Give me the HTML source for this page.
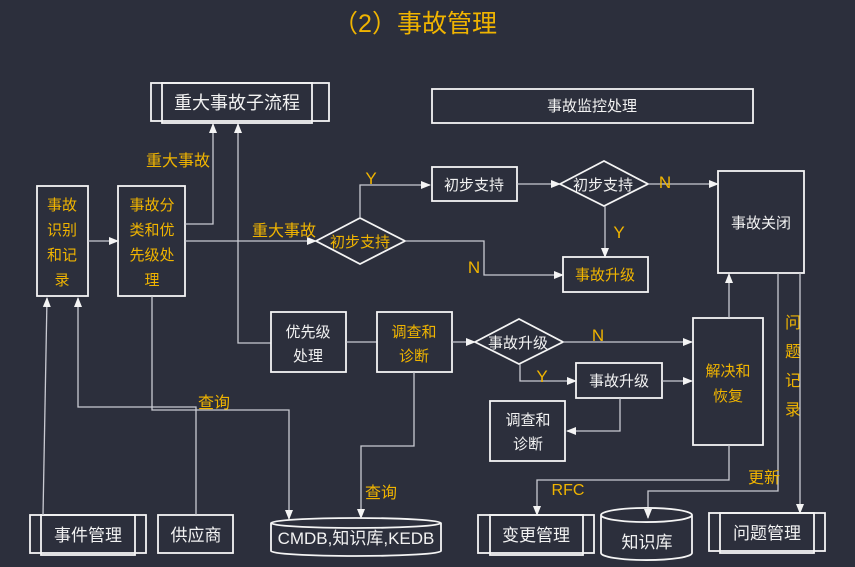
<!DOCTYPE html>
<html><head><meta charset="utf-8"><style>
html,body{margin:0;padding:0;background:#2c2f3c;}
svg{display:block}
text{font-family:"Liberation Sans","Noto Sans CJK SC",sans-serif;}
.o{fill:#f0b400}.w{fill:#f2f2f2}
.b{fill:none;stroke:#f4f4f4;stroke-width:1.8}
.l{fill:none;stroke:#c9cad2;stroke-width:1.3}
</style></head><body>
<svg width="855" height="567" viewBox="0 0 855 567" xmlns="http://www.w3.org/2000/svg">
<defs><marker id="a" markerWidth="10" markerHeight="10" refX="9" refY="5" orient="auto" markerUnits="userSpaceOnUse"><path d="M0,1 L10,5 L0,9 Z" fill="#f4f4f4"/></marker></defs>
<rect width="855" height="567" fill="#2c2f3c"/>
<text x="415" y="32" text-anchor="middle" font-size="25" class="o">（2）事故管理</text>

<!-- top boxes -->
<rect x="151" y="83" width="178" height="38" class="b"/><rect x="162" y="83" width="150" height="40" class="b"/>
<text x="237" y="109" text-anchor="middle" font-size="18" class="w">重大事故子流程</text>
<rect x="432" y="89" width="321" height="34" class="b"/>
<text x="592" y="111" text-anchor="middle" font-size="15" class="w">事故监控处理</text>

<!-- left boxes -->
<rect x="37" y="186" width="51" height="110" class="b"/>
<g font-size="15" class="o" text-anchor="middle"><text x="62" y="210">事故</text><text x="62" y="235">识别</text><text x="62" y="260">和记</text><text x="62" y="285">录</text></g>
<rect x="118" y="186" width="67" height="110" class="b"/>
<g font-size="15" class="o" text-anchor="middle"><text x="152" y="210">事故分</text><text x="152" y="235">类和优</text><text x="152" y="260">先级处</text><text x="152" y="285">理</text></g>
<line x1="88" y1="241" x2="118" y2="241" class="l" marker-end="url(#a)"/>
<polyline points="185,224 213,224 213,124" class="l" marker-end="url(#a)"/>
<text x="178" y="166" text-anchor="middle" font-size="16" class="o">重大事故</text>
<line x1="185" y1="241" x2="316" y2="241" class="l" marker-end="url(#a)"/>
<text x="284" y="236" text-anchor="middle" font-size="16" class="o">重大事故</text>

<!-- diamond 1 -->
<polygon points="316,241 360,218 405,241 360,264" class="b"/>
<text x="360" y="247" text-anchor="middle" font-size="15" class="o">初步支持</text>
<polyline points="360,218 360,185 430,185" class="l" marker-end="url(#a)"/>
<text x="371" y="184" text-anchor="middle" font-size="17" class="o">Y</text>
<polyline points="405,241 484,241 484,275 563,275" class="l" marker-end="url(#a)"/>
<text x="474" y="273" text-anchor="middle" font-size="17" class="o">N</text>

<rect x="432" y="167" width="85" height="34" class="b"/>
<text x="474" y="190" text-anchor="middle" font-size="15" class="w">初步支持</text>
<line x1="517" y1="184" x2="560" y2="184" class="l" marker-end="url(#a)"/>
<polygon points="560,184 604,161 648,184 604,206" class="b"/>
<text x="603" y="190" text-anchor="middle" font-size="15" class="w">初步支持</text>
<line x1="648" y1="184" x2="718" y2="184" class="l" marker-end="url(#a)"/>
<text x="665" y="188" text-anchor="middle" font-size="17" class="o">N</text>
<line x1="605" y1="206" x2="605" y2="257" class="l" marker-end="url(#a)"/>
<text x="619" y="238" text-anchor="middle" font-size="17" class="o">Y</text>
<rect x="563" y="257" width="85" height="35" class="b"/>
<text x="605" y="280" text-anchor="middle" font-size="15" class="o">事故升级</text>
<rect x="718" y="171" width="86" height="102" class="b"/>
<text x="761" y="228" text-anchor="middle" font-size="15" class="w">事故关闭</text>

<!-- middle -->
<polyline points="271,343 238,343 238,124" class="l" marker-end="url(#a)"/>
<rect x="271" y="312" width="75" height="60" class="b"/>
<g font-size="15" class="w" text-anchor="middle"><text x="308" y="337">优先级</text><text x="308" y="361">处理</text></g>
<line x1="346" y1="342" x2="377" y2="342" class="l"/>
<rect x="377" y="312" width="75" height="60" class="b"/>
<g font-size="15" class="o" text-anchor="middle"><text x="414" y="337">调查和</text><text x="414" y="361">诊断</text></g>
<line x1="452" y1="342" x2="475" y2="342" class="l" marker-end="url(#a)"/>
<polygon points="475,342 519,319 563,342 519,364" class="b"/>
<text x="518" y="348" text-anchor="middle" font-size="15" class="w">事故升级</text>
<line x1="563" y1="342" x2="692" y2="342" class="l" marker-end="url(#a)"/>
<text x="598" y="341" text-anchor="middle" font-size="17" class="o">N</text>
<polyline points="520,364 520,381 576,381" class="l" marker-end="url(#a)"/>
<text x="542" y="382" text-anchor="middle" font-size="17" class="o">Y</text>
<rect x="576" y="363" width="86" height="35" class="b"/>
<text x="619" y="386" text-anchor="middle" font-size="15" class="w">事故升级</text>
<line x1="662" y1="381" x2="692" y2="381" class="l" marker-end="url(#a)"/>
<polyline points="620,398 620,431 567,431" class="l" marker-end="url(#a)"/>
<rect x="490" y="401" width="75" height="60" class="b"/>
<g font-size="15" class="w" text-anchor="middle"><text x="528" y="425">调查和</text><text x="528" y="449">诊断</text></g>
<rect x="693" y="318" width="70" height="127" class="b"/>
<g font-size="15" class="o" text-anchor="middle"><text x="728" y="376">解决和</text><text x="728" y="401">恢复</text></g>
<line x1="729" y1="318" x2="729" y2="274" class="l" marker-end="url(#a)"/>
<g font-size="16" class="o" text-anchor="middle"><text x="793" y="328">问</text><text x="793" y="357">题</text><text x="793" y="386">记</text><text x="793" y="415">录</text></g>
<polyline points="778,273 778,491 648,491 648,518" class="l" marker-end="url(#a)"/>
<line x1="800" y1="273" x2="800" y2="513" class="l" marker-end="url(#a)"/>
<text x="764" y="483" text-anchor="middle" font-size="16" class="o">更新</text>
<polyline points="729,445 729,480 537,480 537,515" class="l" marker-end="url(#a)"/>
<text x="568" y="495" text-anchor="middle" font-size="16" class="o">RFC</text>

<!-- bottom -->
<rect x="30" y="515" width="116" height="38" class="b"/><rect x="41" y="515" width="94" height="40" class="b"/>
<text x="88" y="541" text-anchor="middle" font-size="17" class="w">事件管理</text>
<rect x="158" y="515" width="75" height="38" class="b"/>
<text x="196" y="541" text-anchor="middle" font-size="17" class="w">供应商</text>
<path d="M271,523 A85,5 0 0 1 441,523 L441,551 A85,5 0 0 1 271,551 Z M271,523 A85,5 0 0 0 441,523" class="b"/>
<text x="356" y="544" text-anchor="middle" font-size="17" class="w">CMDB,知识库,KEDB</text>
<rect x="478" y="515" width="116" height="38" class="b"/><rect x="490" y="515" width="93" height="40" class="b"/>
<text x="536" y="541" text-anchor="middle" font-size="17" class="w">变更管理</text>
<path d="M601,515 A45,7 0 0 1 692,515 L692,553 A45,7 0 0 1 601,553 Z M601,515 A45,7 0 0 0 692,515" class="b"/>
<text x="647" y="548" text-anchor="middle" font-size="17" class="w">知识库</text>
<rect x="709" y="513" width="116" height="38" class="b"/><rect x="720" y="513" width="94" height="40" class="b"/>
<text x="767" y="539" text-anchor="middle" font-size="17" class="w">问题管理</text>

<polyline points="43,515 47,298" class="l" marker-end="url(#a)"/>
<polyline points="196,515 196,407 78,407 78,298" class="l" marker-end="url(#a)"/>
<polyline points="152,296 152,410 289,410 289,519" class="l" marker-end="url(#a)"/>
<text x="214" y="408" text-anchor="middle" font-size="16" class="o">查询</text>
<polyline points="414,372 414,446 361,446 361,518" class="l" marker-end="url(#a)"/>
<text x="381" y="498" text-anchor="middle" font-size="16" class="o">查询</text>
</svg>
</body></html>
